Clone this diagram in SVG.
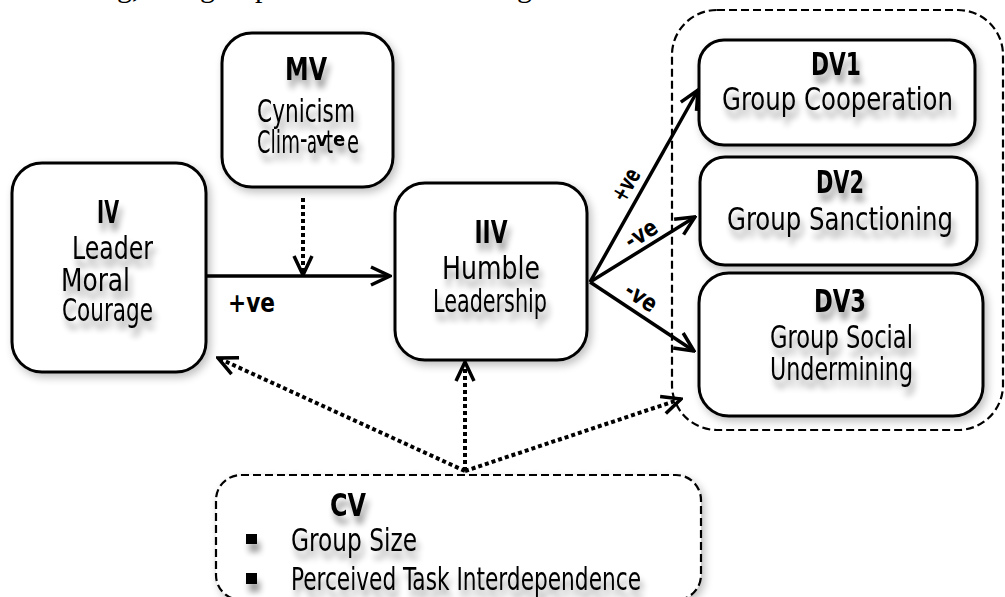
<svg xmlns="http://www.w3.org/2000/svg" width="1005" height="597" viewBox="0 0 1005 597">
<style>
.box{fill:#fff;stroke:#000;stroke-width:3;}
.dbox{fill:none;stroke:#000;stroke-width:2.2;stroke-dasharray:8 4;}
.t{font-family:"DejaVu Sans Condensed","DejaVu Sans",sans-serif;font-stretch:condensed;font-size:32px;fill:#000;}
.b{font-family:"DejaVu Sans Condensed","DejaVu Sans",sans-serif;font-stretch:condensed;font-weight:bold;font-size:32px;fill:#000;}
.lbl{font-family:"DejaVu Sans Condensed","DejaVu Sans",sans-serif;font-stretch:condensed;font-weight:bold;font-size:24px;fill:#000;}
.solid{fill:none;stroke:#000;stroke-width:3.5;}
.dot{fill:none;stroke:#000;stroke-width:4;stroke-dasharray:4 3;}
.doc{font-family:"Liberation Serif",serif;font-size:30px;fill:#000;}
</style>
<defs>
<marker id="ah" viewBox="0 0 22 22" refX="20" refY="11" markerWidth="22" markerHeight="22" markerUnits="userSpaceOnUse" orient="auto">
<path d="M1,2 L20,11 L1,20" fill="none" stroke="#000" stroke-width="3.5" stroke-dasharray="none"/>
</marker>
<filter id="bs" x="-20%" y="-20%" width="140%" height="140%">
<feGaussianBlur in="SourceAlpha" stdDeviation="4"/>
<feOffset dx="3" dy="4"/>
<feComponentTransfer><feFuncA type="linear" slope="0.25"/></feComponentTransfer>
<feMerge><feMergeNode/><feMergeNode in="SourceGraphic"/></feMerge>
</filter>
<filter id="ts" x="-20%" y="-40%" width="140%" height="180%">
<feGaussianBlur in="SourceAlpha" stdDeviation="3"/>
<feOffset dx="3" dy="8"/>
<feComponentTransfer><feFuncA type="linear" slope="0.4"/></feComponentTransfer>
<feMerge><feMergeNode/><feMergeNode in="SourceGraphic"/></feMerge>
</filter>
</defs>

<g id="doc-text">
<text class="doc" y="-3"><tspan x="102">ng, a</tspan><tspan x="200">group</tspan><tspan x="517">g</tspan></text>
</g>

<g id="dv-container">
<rect class="dbox" x="672" y="10" width="331" height="420" rx="45"/>
</g>

<g id="iv">
<rect class="box" filter="url(#bs)" x="12" y="163" width="194" height="209" rx="30"/>
<g filter="url(#ts)">
<text class="b" x="108" y="223" text-anchor="middle" textLength="22" lengthAdjust="spacingAndGlyphs">IV</text>
<text class="t" x="72" y="259" textLength="81" lengthAdjust="spacingAndGlyphs">Leader</text>
<text class="t" x="61" y="291" textLength="69" lengthAdjust="spacingAndGlyphs">Moral</text>
<text class="t" x="62" y="321" textLength="91" lengthAdjust="spacingAndGlyphs">Courage</text>
</g>
</g>

<g id="mv">
<rect class="box" filter="url(#bs)" x="222" y="33" width="171" height="154" rx="30"/>
<g filter="url(#ts)">
<text class="b" x="306" y="80" text-anchor="middle" textLength="42" lengthAdjust="spacingAndGlyphs">MV</text>
<text class="t" x="257" y="122" textLength="98" lengthAdjust="spacingAndGlyphs">Cynicism</text>
<text class="t" x="257" y="153" textLength="43" lengthAdjust="spacingAndGlyphs">Clim</text>
<text class="t" x="307" y="153" textLength="10" lengthAdjust="spacingAndGlyphs">a</text>
<text class="t" x="326" y="153" textLength="7" lengthAdjust="spacingAndGlyphs">t</text>
<text class="t" x="347" y="153" textLength="12" lengthAdjust="spacingAndGlyphs">e</text>
<text class="lbl" y="146" style="font-size:20px"><tspan x="300">-</tspan><tspan x="316">v</tspan><tspan x="333">e</tspan></text>
</g>
</g>

<g id="iiv">
<rect class="box" filter="url(#bs)" x="395" y="183" width="192" height="177" rx="30"/>
<g filter="url(#ts)">
<text class="b" x="491" y="243" text-anchor="middle" textLength="33" lengthAdjust="spacingAndGlyphs">IIV</text>
<text class="t" x="442" y="279" textLength="98" lengthAdjust="spacingAndGlyphs">Humble</text>
<text class="t" x="433" y="312" textLength="114" lengthAdjust="spacingAndGlyphs">Leadership</text>
</g>
</g>

<g id="dv1">
<rect class="box" filter="url(#bs)" x="699" y="40" width="276" height="105" rx="25"/>
<g filter="url(#ts)">
<text class="b" x="836" y="75" text-anchor="middle" textLength="50" lengthAdjust="spacingAndGlyphs">DV1</text>
<text class="t" x="722" y="110" textLength="231" lengthAdjust="spacingAndGlyphs">Group Cooperation</text>
</g>
</g>

<g id="dv2">
<rect class="box" filter="url(#bs)" x="700" y="157" width="277" height="108" rx="25"/>
<g filter="url(#ts)">
<text class="b" x="840" y="193" text-anchor="middle" textLength="48" lengthAdjust="spacingAndGlyphs">DV2</text>
<text class="t" x="727" y="230" textLength="226" lengthAdjust="spacingAndGlyphs">Group Sanctioning</text>
</g>
</g>

<g id="dv3">
<rect class="box" filter="url(#bs)" x="699" y="273" width="284" height="143" rx="30"/>
<g filter="url(#ts)">
<text class="b" x="840" y="312" text-anchor="middle" textLength="52" lengthAdjust="spacingAndGlyphs">DV3</text>
<text class="t" x="770" y="348" textLength="143" lengthAdjust="spacingAndGlyphs">Group Social</text>
<text class="t" x="770" y="380" textLength="143" lengthAdjust="spacingAndGlyphs">Undermining</text>
</g>
</g>

<g id="cv">
<rect class="dbox" filter="url(#bs)" x="216" y="475" width="485" height="125" rx="25" style="fill:#fff"/>
<g filter="url(#ts)">
<text class="b" x="330" y="516" textLength="36" lengthAdjust="spacingAndGlyphs">CV</text>
<rect x="246" y="534" width="11" height="10" fill="#000"/>
<rect x="246" y="573" width="11" height="11" fill="#000"/>
<text class="t" x="291" y="551" textLength="126" lengthAdjust="spacingAndGlyphs">Group Size</text>
<text class="t" x="291" y="590" textLength="350" lengthAdjust="spacingAndGlyphs">Perceived Task Interdependence</text>
</g>
</g>

<g id="connectors">
<path class="solid" d="M206,276 L390,276" marker-end="url(#ah)"/>
<path class="dot" d="M303,198 L303,275" marker-end="url(#ah)"/>
<path class="solid" d="M590,282 L698,90" marker-end="url(#ah)"/>
<path class="solid" d="M590,282 L695,217" marker-end="url(#ah)"/>
<path class="solid" d="M590,282 L694,351" marker-end="url(#ah)"/>
<path class="dot" d="M465,471 L465,362" marker-end="url(#ah)"/>
<path class="dot" d="M465,471 L218,358" marker-end="url(#ah)"/>
<path class="dot" d="M465,471 L681,399" marker-end="url(#ah)"/>
<text class="lbl" x="228" y="312" textLength="47" lengthAdjust="spacingAndGlyphs" style="font-size:26px">+ve</text>
<text class="lbl" transform="translate(626,185) rotate(-60)" x="0" y="8" text-anchor="middle" textLength="34" lengthAdjust="spacingAndGlyphs">+ve</text>
<text class="lbl" transform="translate(641,234) rotate(-32)" x="0" y="8" text-anchor="middle" textLength="34" lengthAdjust="spacingAndGlyphs">-ve</text>
<text class="lbl" transform="translate(641,297) rotate(34)" x="0" y="8" text-anchor="middle" textLength="34" lengthAdjust="spacingAndGlyphs">-ve</text>
</g>
</svg>
